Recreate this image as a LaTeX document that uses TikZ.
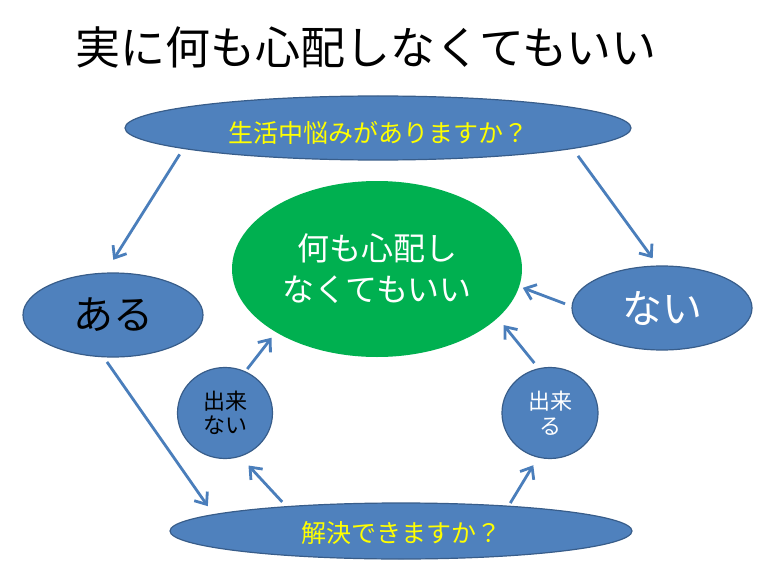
\documentclass[tikz,border=0pt]{standalone}
\usepackage{fontspec}
\setmainfont{Noto Sans CJK JP}
\usetikzlibrary{shapes.geometric,arrows.meta}
\definecolor{bfill}{HTML}{4F81BD}
\definecolor{bline}{HTML}{385D8A}
\definecolor{gfill}{HTML}{00B050}
\definecolor{arrc}{HTML}{4A7EBB}
\definecolor{qyel}{HTML}{FFFF00}
\begin{document}
\begin{tikzpicture}[x=1pt,y=-1pt,
  oval/.style={ellipse, fill=bfill, draw=bline, line width=1.2pt, inner sep=0pt, outer sep=0pt},
  arr/.style={draw=arrc, line width=2.8pt, -{Straight Barb[length=10pt,width=16pt]}},
]
\useasboundingbox (0,0) rectangle (771,583);
\fill[white] (0,0) rectangle (771,583);

\node[font=\fontsize{45}{50}\selectfont] (title) at (366,47) {実に何も心配しなくてもいい};

\node[oval, minimum width=506pt, minimum height=64pt, text=qyel, text height=31pt, text depth=2pt,
  font=\fontsize{25}{30}\selectfont] (top) at (378,128) {生活中悩みがありますか？};
\node[ellipse, fill=gfill, inner sep=0pt, outer sep=0pt, minimum width=290pt, minimum height=176pt,
  text=white, align=center, font=\fontsize{32}{41}\selectfont] (green) at (377,269) {何も心配し\\なくてもいい};
\node[oval, minimum width=180pt, minimum height=84pt, text=black,
  font=\fontsize{40}{44}\selectfont] (aru) at (113,315) {ある};
\node[oval, minimum width=180pt, minimum height=84pt, text=white,
  font=\fontsize{40}{44}\selectfont] (nai) at (662,308) {ない};
\node[oval, minimum width=95pt, minimum height=91pt, text=black, align=center,
  font=\fontsize{22}{24}\selectfont] (dn) at (225,413) {出来\\ない};
\node[oval, minimum width=96pt, minimum height=91pt, text=white, align=center,
  font=\fontsize{22}{25}\selectfont] (dk) at (550,413) {出来\\る};
\node[oval, minimum width=462pt, minimum height=56pt, text=qyel, text height=25pt, text depth=2pt,
  font=\fontsize{25}{30}\selectfont] (bot) at (401,531) {解決できますか？};

\draw[arr, shorten <=7pt, shorten >=15.8pt] (top.186.3) -- (aru.101.9);
\draw[arr, shorten <=9.2pt, shorten >=9.6pt] (top.354.5) -- (nai.95);
\draw[arr, shorten <=6.3pt, shorten >=10.3pt] (aru.257.2) -- (bot.175.45);
\draw[arr, shorten <=6.5pt, shorten >=12.7pt] (bot.168.6) -- (dn.289);
\draw[arr, shorten <=3.5pt, shorten >=7.1pt] (dn.64.4) -- (green.212.3);
\draw[arr, shorten <=3.7pt, shorten >=9.5pt] (bot.13.3) -- (dk.255);
\draw[arr, shorten <=7.3pt, shorten >=9.4pt] (dk.104.6) -- (green.338.2);
\draw[arr, shorten <=7.5pt, shorten >=3.9pt] (nai.179) -- (green.353.4);
\end{tikzpicture}
\end{document}
